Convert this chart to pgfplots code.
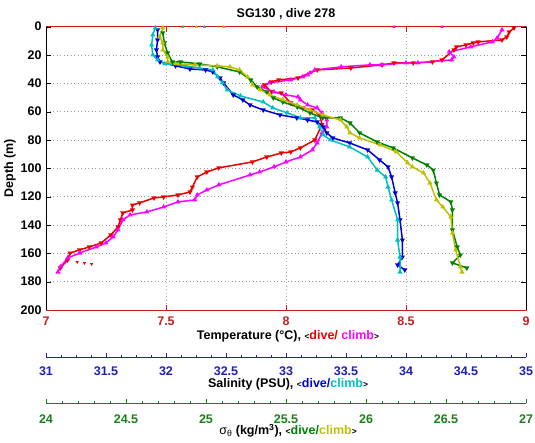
\documentclass[border=0pt]{standalone}
\usepackage{fontspec}
\setmainfont{Liberation Sans}
\usepackage{pgfplots}
\pgfplotsset{compat=1.18}
\definecolor{axred}{rgb}{0.78,0.12,0.12}
\definecolor{axblue}{rgb}{0.12,0.12,0.72}
\definecolor{axgreen}{rgb}{0.1,0.5,0.1}
\definecolor{cred}{rgb}{0.92,0,0}
\definecolor{cmag}{rgb}{1,0,1}
\definecolor{cblue}{rgb}{0,0,0.85}
\definecolor{ccyan}{rgb}{0,0.75,0.75}
\definecolor{cgreen}{rgb}{0,0.5,0}
\definecolor{cyel}{rgb}{0.75,0.75,0}
\newcommand{\tf}{\bfseries\fontsize{12.5}{14}\selectfont}
\newcommand{\lt}{{\fontsize{8.5}{9}\selectfont<}}
\newcommand{\gt}{{\fontsize{8.5}{9}\selectfont>}}
\pgfplotsset{
  dataaxis/.style={scale only axis, width=480pt, height=283.4pt, at={(46pt,132pt)}, anchor=south west,
    ymin=0, ymax=200, y dir=reverse, clip=false},
  scaleaxis/.style={scale only axis, width=480pt, height=10pt, anchor=south west,
    ymin=0, ymax=1, axis x line*=bottom, axis y line=none, tick align=inside,
    major tick length=4pt, minor tick length=2pt,
    /pgf/number format/assume math mode=true},
  dive/.style={line width=1.5pt, mark=triangle*, mark size=1.5pt, mark options={rotate=180}},
  climb/.style={line width=1.5pt, mark=triangle*, mark size=1.5pt},
  stray/.style={only marks, mark=triangle*, mark size=1.5pt},
}
\begin{document}
\begin{tikzpicture}[x=1pt,y=1pt]
\path[use as bounding box] (0,0) rectangle (535,442);
% temperature axis
\begin{axis}[dataaxis, xmin=7, xmax=9,
  xtick={7,7.5,8,8.5,9}, ytick={0,20,...,200},
  grid=major,
  x grid style={dash pattern=on 1pt off 2.5pt, axred!35!gray!60},
  y grid style={dash pattern=on 1pt off 2.5pt, gray!80},
  tick align=inside, major tick length=5pt,
  separate axis lines,
  x axis line style={axred},
  y axis line style={black},
  x tick style={axred}, y tick style={black},
  /pgf/number format/assume math mode=true,
  xticklabel style={font=\tf, axred, yshift=-3.5pt},
  yticklabel style={font=\tf, black, xshift=-1pt},
]
\addplot[dive, color=cred] coordinates {
(8.95,1) (8.93,3.7) (8.92,7.3) (8.90,9.4) (8.80,10.8) (8.78,11.5) (8.75,12.9) (8.71,14.3) (8.70,16.4)
(8.65,23.5) (8.61,24.9) (8.53,25.6) (8.45,25.6) (8.40,27.0) (8.27,29.2) (8.13,30.6) (8.05,36.2)
(7.97,37.6) (7.94,39.0) (7.91,41.2) (7.94,46.1) (7.98,46.8) (8.02,53.9) (8.07,57.4) (8.11,58.8)
(8.14,62.3) (8.15,69.0) (8.12,80.0) (8.06,85.6) (8.02,88.4) (7.98,89.2) (7.92,92.0) (7.86,95.5)
(7.72,99.7) (7.67,102.6) (7.63,106.1) (7.61,113.2) (7.60,116.7) (7.55,118.8) (7.49,120.2) (7.45,120.9)
(7.39,124.4) (7.36,125.9) (7.36,129.4) (7.32,131.5) (7.31,136.4) (7.30,141.4) (7.27,147.0) (7.23,152.7)
(7.18,155.5) (7.14,157.6) (7.10,159.8) (7.09,164.7) (7.06,170.3)
};
\addplot[stray, color=cred, mark options={rotate=180}] coordinates {(7.13,166.1) (7.16,166.8) (7.19,167.5)};
\addplot[climb, color=cmag] coordinates {
(7.05,173.2) (7.06,169.6) (7.09,163.3) (7.14,159.8) (7.21,155.5) (7.25,152.7) (7.28,148.4) (7.30,143.5)
(7.32,136.4) (7.35,132.9) (7.42,130.8) (7.49,127.3) (7.55,123.7) (7.62,122.3) (7.63,118.8) (7.67,115.3)
(7.72,111.7) (7.85,104.7) (7.89,102.6) (7.95,99.0) (8.00,95.5) (8.06,92.0) (8.11,87.0) (8.13,82.1)
(8.15,75.0) (8.17,70.8) (8.17,65.9) (8.15,60.9) (8.13,57.4) (8.09,55.3) (8.06,51.7) (8.05,49.6)
(8.00,48.2) (7.95,46.1) (7.90,42.6) (7.93,39.7) (8.02,37.6) (8.07,35.5) (8.09,34.1) (8.10,32.7)
(8.12,30.6) (8.23,28.4) (8.35,27.0) (8.40,27.0) (8.50,25.6) (8.55,25.6) (8.69,23.5) (8.70,21.4)
(8.68,17.9) (8.77,14.3) (8.86,10.8) (8.88,8.0) (8.90,2.3)
};
\addplot[stray, color=cmag] coordinates {(8.45,0.2) (8.65,0.2)};
\end{axis}
% salinity data
\begin{axis}[dataaxis, xmin=31, xmax=35, hide axis]
\addplot[dive, color=cblue] coordinates {
(31.93,2.3) (31.93,9.4) (31.92,16.4) (31.93,21.4) (31.95,24.9) (32.08,27.7) (32.20,29.9) (32.33,30.6)
(32.39,32.0) (32.45,36.2) (32.48,39.7) (32.56,48.2) (32.64,51.7) (32.70,55.3) (32.81,58.8) (32.95,62.3)
(33.09,64.4) (33.18,65.9) (33.26,67.3) (33.31,70.8) (33.34,75.0) (33.39,78.6) (33.53,82.1) (33.68,87.0)
(33.78,94.1) (33.85,99.0) (33.88,106.1) (33.91,117.4) (33.93,124.4) (33.95,136.4) (33.97,150.6)
(33.97,162.6) (33.93,168.2) (33.99,171.7)
};
\addplot[climb, color=ccyan] coordinates {
(33.95,173.2) (33.95,162.6) (33.93,150.6) (33.93,136.4) (33.88,122.3) (33.85,113.2) (33.83,106.1)
(33.76,101.2) (33.68,92.0) (33.53,84.9) (33.37,80.0) (33.31,76.4) (33.28,70.8) (33.24,64.4) (33.12,64.4)
(33.01,60.9) (32.89,57.4) (32.81,53.2) (32.62,48.9) (32.51,44.7) (32.47,39.7) (32.43,35.5) (32.39,30.6)
(32.28,29.2) (32.16,27.7) (31.99,26.3) (31.93,23.5) (31.89,20.0) (31.88,12.9) (31.89,5.9) (31.91,0.9)
};
\addplot[stray, color=ccyan] coordinates {(32.14,0.2) (32.32,0.2)};
\end{axis}
% density data
\begin{axis}[dataaxis, xmin=24, xmax=27, hide axis]
\addplot[dive, color=cgreen] coordinates {
(24.73,4.4) (24.74,11.5) (24.76,18.6) (24.79,24.9) (24.84,24.9) (24.96,26.3) (25.07,28.4) (25.21,32.0)
(25.28,37.6) (25.32,42.6) (25.38,46.1) (25.42,50.3) (25.48,53.2) (25.57,56.7) (25.65,60.9) (25.73,64.4)
(25.84,64.4) (25.90,68.0) (25.96,75.0) (26.07,81.4) (26.17,85.6) (26.29,92.7) (26.38,97.6) (26.42,101.2)
(26.44,110.4) (26.46,118.8) (26.53,123.7) (26.54,129.4) (26.54,143.5) (26.57,155.5) (26.59,161.2)
(26.54,166.8) (26.63,170.3)
};
\addplot[climb, color=cyel] coordinates {
(26.60,173.2) (26.59,169.6) (26.56,157.6) (26.54,145.6) (26.53,134.3) (26.48,127.3) (26.44,122.3)
(26.40,110.4) (26.36,103.3) (26.29,99.0) (26.26,96.2) (26.19,88.4) (26.09,83.5) (25.96,78.6) (25.90,75.0)
(25.88,70.8) (25.84,65.9) (25.73,62.3) (25.65,58.8) (25.57,55.3) (25.48,51.7) (25.40,48.2) (25.34,44.7)
(25.29,41.2) (25.26,35.5) (25.21,30.6) (25.15,28.4) (25.07,27.7) (24.93,27.0) (24.81,26.3) (24.76,24.9)
(24.76,21.4) (24.73,16.4) (24.73,11.5) (24.71,7.3) (24.73,0.9)
};
\addplot[stray, color=cyel] coordinates {(24.94,0.2) (25.11,0.2)};
\end{axis}
% salinity scale
\begin{axis}[scaleaxis, at={(46pt,85.3pt)}, xmin=31, xmax=35,
  xtick={31,31.5,...,35}, minor x tick num=3,
  axis line style={axblue,-}, x tick style={axblue},
  xticklabel style={font=\tf, axblue, yshift=-6.5pt}]
\end{axis}
% density scale
\begin{axis}[scaleaxis, at={(46pt,39pt)}, xmin=24, xmax=27,
  xtick={24,24.5,...,27}, minor x tick num=4,
  axis line style={axgreen,-}, x tick style={axgreen},
  xticklabel style={font=\tf, axgreen, yshift=-8pt}]
\end{axis}
% labels
\node[font=\tf] at (286,427.6) {SG130 , dive 278};
\node[font=\tf, rotate=90] at (10,274) {Depth (m)};
\node[font=\tf] at (288,106) {Temperature (°C), \lt\textcolor{cred}{dive/} \textcolor{cmag}{climb}\gt};
\node[font=\tf] at (288,58) {Salinity (PSU), \lt\textcolor{cblue}{dive/}\textcolor{ccyan}{climb}\gt};
\node[font=\tf] at (288,11.5) {{\mdseries σ\textsubscript{θ}} (kg/m\textsuperscript{3}), \lt\textcolor{cgreen}{dive/}\textcolor{cyel}{climb}\gt};
\end{tikzpicture}
\end{document}
